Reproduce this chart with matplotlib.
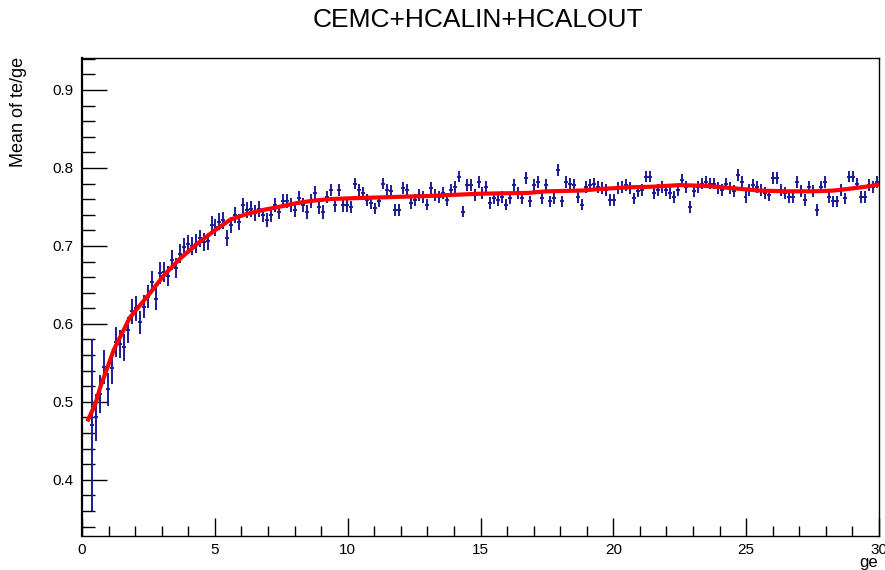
import numpy as np
import matplotlib
matplotlib.use("Agg")
import matplotlib.pyplot as plt
from matplotlib.ticker import MultipleLocator

plt.rcParams['font.family'] = ['Liberation Sans', 'DejaVu Sans']

# Profile binning: 200 bins over [0, 30]; the first two bins are empty
bin_edges = np.linspace(0.0, 30.0, 201)
bin_centers = 0.5 * (bin_edges[:-1] + bin_edges[1:])
x_vals = bin_centers[2:]
half_width = 0.075

mean_rise = [0.470, 0.480, 0.510, 0.545, 0.516, 0.543, 0.577, 0.574, 0.570, 0.592,
             0.616, 0.620, 0.602, 0.622, 0.635, 0.654, 0.632, 0.665, 0.667, 0.661,
             0.682, 0.672, 0.690, 0.698, 0.702, 0.700, 0.703, 0.710, 0.705, 0.706,
             0.727]
mean_knee = [0.724, 0.731, 0.733, 0.710, 0.727, 0.740, 0.731, 0.752, 0.746, 0.747,
             0.742, 0.747, 0.740, 0.733, 0.740, 0.752, 0.744, 0.757, 0.757, 0.752,
             0.746, 0.761, 0.752, 0.744, 0.757, 0.768, 0.750, 0.744, 0.763, 0.772,
             0.752, 0.772, 0.752, 0.752]
mean_10_15 = [0.750, 0.780, 0.772, 0.768, 0.759, 0.755, 0.748, 0.757, 0.780, 0.772,
              0.770, 0.746, 0.746, 0.774, 0.772, 0.755, 0.759, 0.765, 0.763, 0.753,
              0.774, 0.765, 0.763, 0.768, 0.759, 0.772, 0.776, 0.789, 0.744, 0.778,
              0.778, 0.765, 0.782, 0.768]
mean_15_20 = [0.776, 0.755, 0.761, 0.759, 0.763, 0.753, 0.761, 0.778, 0.768, 0.761,
              0.787, 0.757, 0.778, 0.782, 0.761, 0.778, 0.757, 0.761, 0.797, 0.757,
              0.782, 0.780, 0.778, 0.763, 0.753, 0.776, 0.778, 0.780, 0.776, 0.774,
              0.772, 0.759, 0.759, 0.774]
mean_20_25 = [0.776, 0.778, 0.774, 0.761, 0.770, 0.772, 0.789, 0.789, 0.768, 0.772,
              0.776, 0.772, 0.768, 0.763, 0.772, 0.785, 0.776, 0.750, 0.770, 0.776,
              0.780, 0.782, 0.780, 0.780, 0.774, 0.772, 0.780, 0.774, 0.770, 0.791,
              0.782, 0.763, 0.772, 0.778]
mean_25_30 = [0.776, 0.772, 0.768, 0.765, 0.787, 0.787, 0.772, 0.768, 0.763, 0.763,
              0.782, 0.770, 0.759, 0.776, 0.770, 0.746, 0.776, 0.782, 0.763, 0.757,
              0.757, 0.772, 0.761, 0.789, 0.789, 0.780, 0.763, 0.763, 0.778, 0.776,
              0.782]

err_rise = [0.110, 0.030, 0.024, 0.022, 0.021, 0.020, 0.019, 0.018, 0.017, 0.017,
            0.016, 0.016, 0.015, 0.015, 0.015, 0.014, 0.014, 0.014, 0.013, 0.013,
            0.013, 0.013, 0.012, 0.012, 0.012, 0.012, 0.012, 0.011, 0.011, 0.011,
            0.011]
err_knee = [0.011, 0.011, 0.011, 0.010, 0.010, 0.010, 0.010, 0.010, 0.010, 0.010,
            0.010, 0.010, 0.009, 0.009, 0.009, 0.009, 0.009, 0.009, 0.009, 0.009,
            0.009, 0.009, 0.009, 0.009, 0.009, 0.009, 0.009, 0.009, 0.008, 0.008,
            0.008, 0.008, 0.008, 0.008]
err_flat = 0.0075

fit_x = [0.2, 0.5, 0.7, 1.2, 1.8, 2.5, 3.1, 3.7, 4.35, 5.0, 5.6, 6.2, 6.8, 7.4, 8.1,
         8.7, 9.3, 10.0, 12.0, 13.0, 15.0, 16.8, 17.5, 18.8, 19.5, 20.5, 21.5, 22.5,
         23.5, 24.5, 25.5, 26.5, 27.5, 28.3, 28.8, 29.3, 29.7, 30.0]
fit_y = [0.475, 0.497, 0.520, 0.567, 0.608, 0.637, 0.663, 0.684, 0.703, 0.720, 0.734,
         0.741, 0.746, 0.750, 0.755, 0.758, 0.760, 0.761, 0.763, 0.764, 0.767, 0.768,
         0.770, 0.771, 0.773, 0.775, 0.776, 0.778, 0.777, 0.774, 0.771, 0.770, 0.770,
         0.771, 0.773, 0.775, 0.777, 0.779]

means = np.array(mean_rise + mean_knee + mean_10_15 + mean_15_20 + mean_20_25 + mean_25_30)
n_flat = len(means) - len(err_rise) - len(err_knee)
errors = np.array(err_rise + err_knee + [err_flat] * n_flat)

fig = plt.figure(figsize=(8.85, 5.70), dpi=100)
ax = fig.add_axes([82 / 885, 34 / 570, 797 / 885, 478 / 570])

ax.errorbar(x_vals, means, yerr=errors, xerr=half_width, fmt='none',
            ecolor='#1c1c96', elinewidth=1.4, capsize=0, zorder=2)
ax.plot(fit_x, fit_y, color='#ff0000', lw=3.0, zorder=3, solid_capstyle='butt')

ax.set_xlim(0, 30)
ax.set_ylim(0.328, 0.941)

ax.xaxis.set_major_locator(MultipleLocator(5))
ax.xaxis.set_minor_locator(MultipleLocator(1))
ax.yaxis.set_major_locator(MultipleLocator(0.1))
ax.yaxis.set_minor_locator(MultipleLocator(0.02))
ax.yaxis.set_major_formatter(plt.FuncFormatter(lambda v, p: f"{v:.1f}"))
ax.tick_params(axis='both', which='both', direction='in', top=False, right=False,
               labelsize=11, color='black', width=1.0)
ax.tick_params(axis='y', which='major', length=18, pad=6)
ax.tick_params(axis='y', which='minor', length=9)
ax.tick_params(axis='x', which='major', length=13, pad=5)
ax.tick_params(axis='x', which='minor', length=7)

for side in ['top', 'right', 'bottom']:
    ax.spines[side].set_linewidth(1.0)
ax.spines['left'].set_linewidth(1.6)

fig.text(478 / 885, 1 - 20 / 570, 'CEMC+HCALIN+HCALOUT', ha='center', va='center',
         fontsize=19)
fig.text(19 / 885, 1 - 57 / 570, 'Mean of te/ge', rotation=90, ha='center', va='top',
         fontsize=13)
fig.text(878 / 885, 1 - 562 / 570, 'ge', ha='right', va='center', fontsize=12)

fig.savefig('out.png', dpi=100)
